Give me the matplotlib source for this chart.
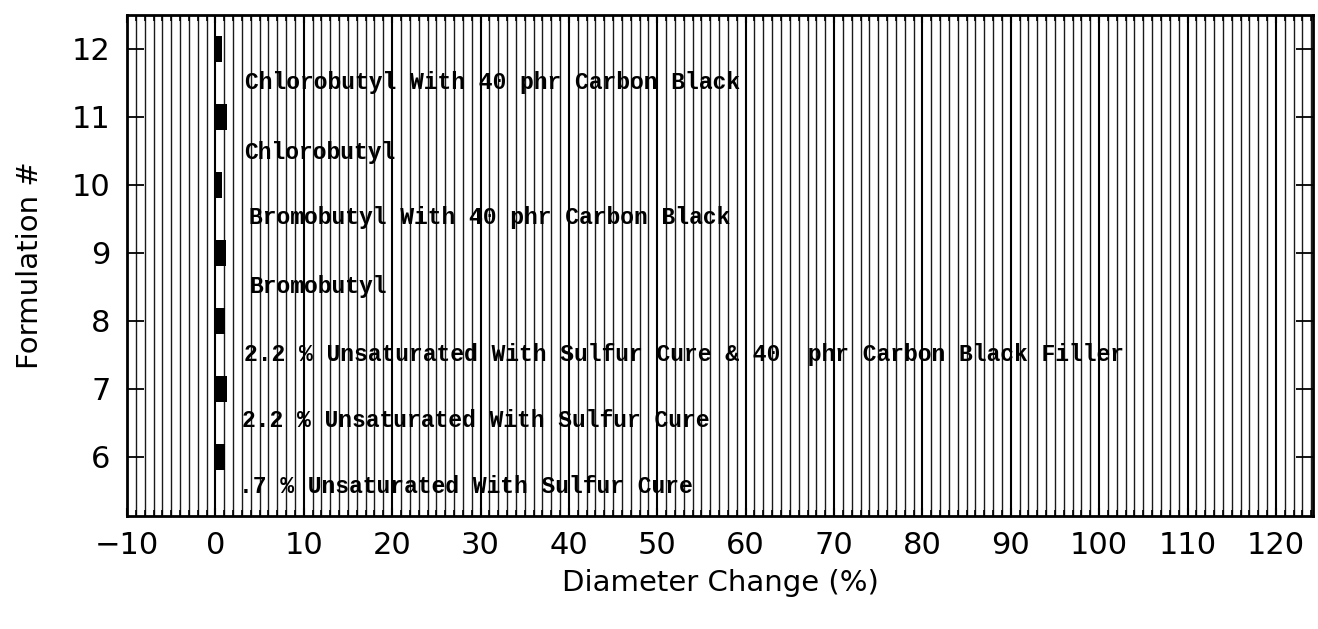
import matplotlib.pyplot as plt
import numpy as np

# formulation numbers and diameter change (%)
formulations = [6, 7, 8, 9, 10, 11, 12]
diameter_change = [1.05, 1.35, 1.1, 1.25, 0.7, 1.35, 0.8]

# descriptive labels for each formulation
labels = [
    ".7 % Unsaturated With Sulfur Cure",
    "2.2 % Unsaturated With Sulfur Cure",
    "2.2 % Unsaturated With Sulfur Cure & 40  phr Carbon Black Filler",
    "Bromobutyl",
    "Bromobutyl With 40 phr Carbon Black",
    "Chlorobutyl",
    "Chlorobutyl With 40 phr Carbon Black",
]
label_x = [2.7, 3.0, 3.2, 3.8, 3.8, 3.3, 3.3]
label_y = [5.57, 6.53, 7.5, 8.5, 9.52, 10.47, 11.5]

xmin, xmax = -10, 124.2
ymin, ymax = 5.13, 12.5

fig = plt.figure(figsize=(13.18, 6.29), dpi=100)
ax = fig.add_axes([0.0964, 0.1797, 0.8998, 0.7965])

# dense vertical rules, one per unit, heavier every 10
minor = np.arange(-9, 125, 1)
minor = minor[minor % 10 != 0]
major = np.arange(0, 125, 10)
ax.vlines(minor, ymin, ymax, colors='#1a1a1a', linewidth=1.0, zorder=1)
ax.vlines(major, ymin, ymax, colors='black', linewidth=1.5, zorder=1)

ax.barh(formulations, diameter_change, left=0, height=0.38, color='black', zorder=3)

for txt, x, y in zip(labels, label_x, label_y):
    ax.text(x, y, txt, family='Liberation Mono', fontweight='bold', fontsize=16.6,
            ha='left', va='center', zorder=4)

ax.set_xlim(xmin, xmax)
ax.set_ylim(ymin, ymax)
ax.set_xticks(np.arange(-10, 121, 10))
ax.set_yticks(formulations)
ax.set_xticks(np.arange(-9, 125, 1), minor=True)
ax.tick_params(axis='x', which='major', direction='in', length=6, width=1.5,
               top=True, labelsize=22, pad=11)
ax.tick_params(axis='x', which='minor', direction='in', length=4, width=1.2, top=True)
ax.tick_params(axis='y', which='major', direction='in', length=12, width=1.3,
               right=True, labelsize=22, pad=12)
for s in ax.spines.values():
    s.set_linewidth(2)

ax.set_xlabel('Diameter Change (%)', fontsize=21, labelpad=6)
ax.set_ylabel('Formulation #', fontsize=21, labelpad=20)

fig.savefig('out.png', dpi=100)
